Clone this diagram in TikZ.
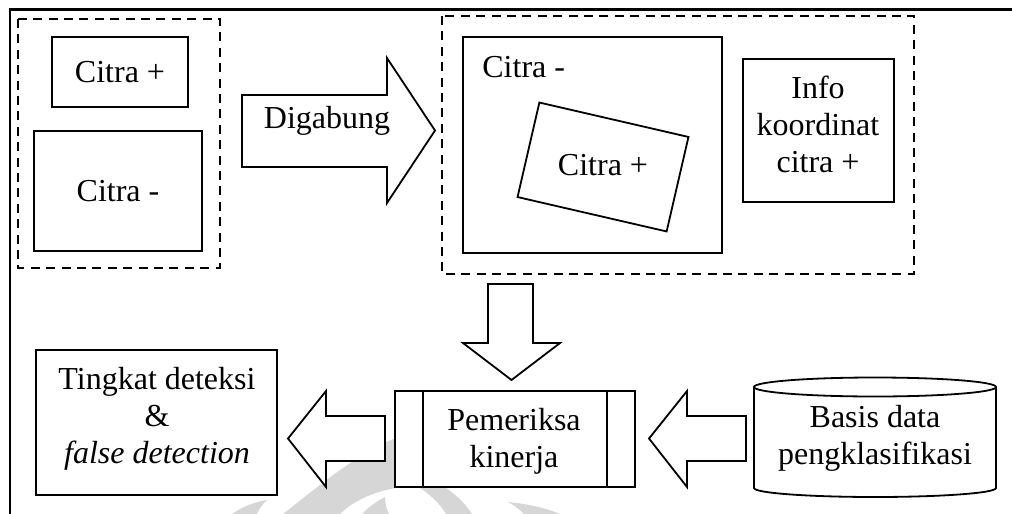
\documentclass[tikz,border=0pt]{standalone}
\usepackage{fontspec}
\setmainfont{Liberation Serif}
\usetikzlibrary{calc}
\begin{document}
\begin{tikzpicture}[x=0.5pt,y=-0.5pt,
  every node/.style={font=\fontsize{16}{18.5}\selectfont},
  box/.style={draw, line width=0.9pt, fill=white, inner sep=0pt},
  txt/.style={align=center, inner sep=0pt},
  groupbox/.style={draw, line width=0.9pt, dash pattern=on 4.5pt off 3.2pt},
  blockarrow/.style={draw, line width=0.9pt, fill=white, line join=miter},
  wmark/.style={fill=black!16, draw=none}]
\useasboundingbox (0,0) rectangle (1012,514);

% faint emblem in the background
\fill[wmark] (283,514) .. controls (320,485) and (355,455) .. (396,438)
  -- (396,488) .. controls (372,492) and (352,502) .. (340,514) -- cycle;
\fill[wmark] (232,514) .. controls (242,507) and (254,502) .. (267,500)
  .. controls (262,505) and (259,509) .. (257,514) -- cycle;
\fill[wmark] (362,514) .. controls (370,506) and (377,501) .. (385,497)
  .. controls (385,503) and (386,508) .. (389,514) -- cycle;
\fill[wmark] (420,488) -- (446,488) .. controls (458,496) and (466,505) .. (472,514)
  -- (446,514) .. controls (440,504) and (432,496) .. (420,488) -- cycle;
\fill[wmark] (508,502) .. controls (528,504) and (546,508) .. (560,514)
  -- (524,514) .. controls (519,509) and (514,505) .. (508,502) -- cycle;

% page frame
\draw[line width=1.1pt] (1016,9.5) -- (10,9.5) -- (10,518);

% input images
\draw[groupbox] (18,19) rectangle (220,268);
\node[box, minimum width=68pt, minimum height=35pt] (pos) at (120,72) {Citra +};
\node[box, minimum width=84pt, minimum height=60pt] (neg) at (118,191) {Citra -};

% merge arrow
\draw[blockarrow] (242,95) -- (387,95) -- (387,58) -- (435,130.5) -- (387,203)
  -- (387,167) -- (242,167) -- cycle;
\node[txt, anchor=base] (merge) at (327,128) {Digabung};

% merged result
\draw[groupbox] (442,16) rectangle (914,274);
\node[box, minimum width=129.5pt, minimum height=108pt] (scene) at (592.5,145) {};
\node[txt, anchor=base west] (scenelbl) at (482,77) {Citra -};
\node[box, minimum width=76.5pt, minimum height=48.5pt, rotate=-13] (patch) at (603,167) {};
\node[txt, anchor=base] (patchlbl) at (603,175) {Citra +};
\node[box, minimum width=75.5pt, minimum height=71.5pt] (info) at (818.5,130.5) {};
\node[txt] (infolbl) at (818,124.5) {Info\\koordinat\\citra +};

% down arrow into the checker
\draw[blockarrow] (488,284) -- (533,284) -- (533,343) -- (560,343) -- (511.5,380)
  -- (463,343) -- (488,343) -- cycle;

% performance checker
\node[box, minimum width=120pt, minimum height=48pt] (check) at (515,439) {};
\draw[line width=0.9pt] ($(check.north west)+(29,0)$) -- ($(check.south west)+(29,0)$);
\draw[line width=0.9pt] ($(check.north east)+(-29,0)$) -- ($(check.south east)+(-29,0)$);
\node[txt] (checklbl) at (514,441) {Pemeriksa\\kinerja};

% output
\node[box, minimum width=120.5pt, minimum height=72.5pt] (result) at (156.5,422.5) {};
\node[txt] (resultlbl) at (157,419) {Tingkat deteksi\\\&\\\textit{false detection}};

% arrow to the output
\draw[blockarrow] (385,416) -- (326,416) -- (326,391) -- (288,438.5) -- (326,487)
  -- (326,461) -- (385,461) -- cycle;

% classifier database
\draw[line width=0.9pt, fill=white] (754,387) -- (754,488)
  arc[start angle=180, end angle=0, x radius=121, y radius=9] -- (996,387);
\draw[line width=0.9pt, fill=white] (875,387) ellipse[x radius=121, y radius=9.5];
\node[txt] (dblbl) at (875,438.5) {Basis data\\pengklasifikasi};

% arrow from the database
\draw[blockarrow] (746,416) -- (687,416) -- (687,391) -- (649,438.5) -- (687,487)
  -- (687,461) -- (746,461) -- cycle;
\end{tikzpicture}
\end{document}
